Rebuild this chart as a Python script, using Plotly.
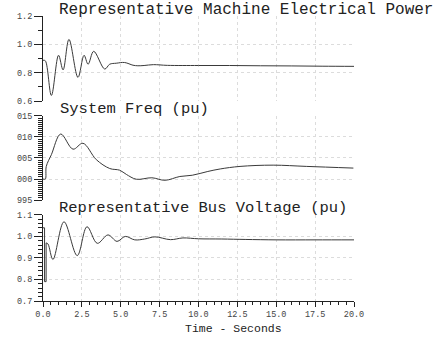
import plotly.graph_objects as go

# ---- data ----
t_pow = [0, 0.15, 0.54, 1.0, 1.29, 1.67, 2.25, 2.64, 2.9, 3.26, 3.97, 4.29, 4.71, 5.25,
         5.79, 6.1, 6.5, 7.1, 8.0, 10.0, 12.0, 14.0, 16.0, 18.0, 20.0]
p_pow = [0.888, 0.884, 0.64, 0.923, 0.82, 1.035, 0.767, 0.923, 0.86, 0.951, 0.826, 0.86, 0.867, 0.872,
         0.853, 0.849, 0.851, 0.857, 0.852, 0.851, 0.851, 0.849, 0.848, 0.846, 0.845]

t_frq = [0, 0.15, 0.21, 0.54, 1.14, 1.93, 2.57, 3.43, 4.29, 4.93, 5.36, 6.0, 7.0, 7.85,
         8.8, 9.6, 10.6, 11.4, 12.67, 14.8, 16.96, 19.96]
f_frq = [1.0, 1.0, 1.003, 1.0058, 1.0107, 1.0071, 1.0085, 1.0046, 1.0025, 1.0021, 1.0011, 0.99995,
         1.0003, 0.9997, 1.0006, 1.0009, 1.0018, 1.0024, 1.0030, 1.0033, 1.0030, 1.0026]

t_flt = [0, 0.1, 0.1001, 0.2, 0.2001]
v_flt = [1.04, 1.04, 0.79, 0.79, 0.97]
t_vol = [0.2001, 0.32, 0.64, 1.35, 2.2, 2.83, 3.49, 4.18, 4.76, 5.29, 5.9, 6.54, 7.2, 8.2,
         9.0, 10.0, 11.5, 13.0, 15.0, 17.5, 20.0]
v_vol = [0.97, 0.965, 0.893, 1.068, 0.911, 1.045, 0.968, 1.007, 0.977, 1.0, 0.984, 0.988, 0.998, 0.985,
         0.993, 0.989, 0.988, 0.986, 0.984, 0.984, 0.984]

x_ticks = [0, 2.5, 5, 7.5, 10, 12.5, 15, 17.5, 20]
x_labels = ["0.0", "2.5", "5.0", "7.5", "10.0", "12.5", "15.0", "17.5", "20.0"]
f_ticks = [0.995, 1.0, 1.005, 1.01, 1.015]
f_labels = ["995", "000", "005", "010", "015"]

titles = ["Representative Machine Electrical Power", "System Freq (pu)",
          "Representative Bus Voltage (pu)"]

LINE = dict(color="#3a3a3a", width=1)
MONO = "Liberation Mono, Courier New, monospace"

fig = go.Figure()
fig.add_trace(go.Scatter(x=t_pow, y=p_pow, mode="lines", line=dict(**LINE, shape="spline", smoothing=1.0),
                         xaxis="x", yaxis="y"))
fig.add_trace(go.Scatter(x=t_frq, y=f_frq, mode="lines", line=dict(**LINE, shape="spline", smoothing=1.0),
                         xaxis="x2", yaxis="y2"))
fig.add_trace(go.Scatter(x=t_flt, y=v_flt, mode="lines", line=dict(**LINE), xaxis="x3", yaxis="y3"))
fig.add_trace(go.Scatter(x=t_vol, y=v_vol, mode="lines", line=dict(**LINE, shape="spline", smoothing=1.0),
                         xaxis="x3", yaxis="y3"))

grid = dict(showgrid=True, gridcolor="#dcdcdc", griddash="dot", gridwidth=1)
tickfont = dict(family=MONO, size=8.5, color="#444")

def yax(dom, rng, **kw):
    d = dict(domain=dom, range=rng, showline=True, linecolor="#222", linewidth=1,
             ticks="outside", ticklen=8, tickwidth=1, tickcolor="#222", tickfont=tickfont,
             zeroline=False, fixedrange=True, **grid)
    d.update(kw)
    return d

def xax(anchor, visible, **kw):
    d = dict(domain=[0, 1], range=[0, 20], anchor=anchor, zeroline=False, tickvals=x_ticks,
             **grid)
    if visible:
        d.update(showline=True, linecolor="#222", linewidth=1, ticks="outside", ticklen=5,
                 tickcolor="#222", ticktext=x_labels, tickfont=dict(family=MONO, size=8.5, color="#444"),
                 minor=dict(dtick=0.5, ticks="outside", ticklen=3, tickcolor="#222", showgrid=False))
    else:
        d.update(showline=False, ticks="", showticklabels=False)
    d.update(kw)
    return d

fig.update_layout(
    width=435, height=337, plot_bgcolor="white", paper_bgcolor="white",
    margin=dict(l=43, r=81, t=13, b=36), showlegend=False,
    xaxis=xax("y", False),
    xaxis2=xax("y2", False, matches="x"),
    xaxis3=xax("y3", True, matches="x"),
    yaxis=yax([0.7014, 1.0], [0.6, 1.2], tickvals=[0.6, 0.8, 1.0, 1.2],
              ticktext=["0.6", "0.8", "1.0", "1.2"],
              minor=dict(dtick=0.1, ticks="outside", ticklen=4, tickcolor="#222", showgrid=False)),
    yaxis2=yax([0.3542, 0.6493], [0.995, 1.015], tickvals=f_ticks, ticktext=f_labels,
               minor=dict(dtick=0.0005, ticks="outside", ticklen=4, tickcolor="#222", showgrid=False)),
    yaxis3=yax([0, 0.3021], [0.7, 1.1], tickvals=[0.7, 0.8, 0.9, 1.0, 1.1],
               ticktext=["0.7", "0.8", "0.9", "1.0", "1.1"],
               minor=dict(dtick=0.02, ticks="outside", ticklen=4, tickcolor="#222", showgrid=False)),
)

title_pos = [(0.045, 1.0208, 16), (0.048, 0.6736, 15.5), (0.045, 0.3264, 15.5)]
for txt, (x, y, s) in zip(titles, title_pos):
    fig.add_annotation(text=txt, x=x, y=y, xref="paper", yref="paper", xanchor="left",
                       yanchor="middle", showarrow=False,
                       font=dict(family=MONO, size=s, color="#222"))
fig.add_annotation(text="Time - Seconds", x=0.614, y=-0.097, xref="paper", yref="paper",
                   xanchor="center", yanchor="middle", showarrow=False,
                   font=dict(family=MONO, size=11.5, color="#222"))

fig.write_html("out.html")
